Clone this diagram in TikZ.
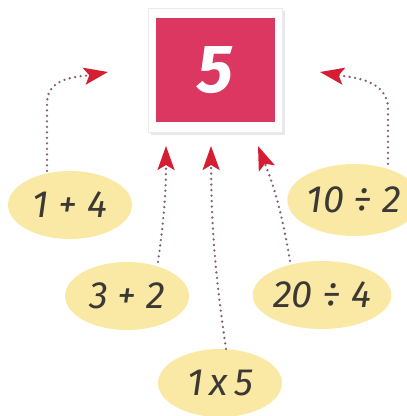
\documentclass[tikz,border=0pt]{standalone}
\usepackage{fontspec}
\setmainfont{Fira Sans}
\usepackage{xcolor}
\definecolor{boxred}{RGB}{219,55,96}
\definecolor{sumyellow}{RGB}{250,233,165}
\definecolor{inkgray}{RGB}{60,56,52}
\definecolor{dotgray}{RGB}{135,95,118}
\definecolor{tipred}{RGB}{214,30,50}
\usetikzlibrary{arrows.meta,positioning,shapes.geometric,shadows}

\begin{document}
\begin{tikzpicture}[x=1pt,y=-1pt,
    every node/.style={font=\itshape\fontsize{38}{40}\selectfont,text=inkgray},
    sum/.style={ellipse,fill=sumyellow,minimum width=124pt,minimum height=68pt,inner sep=0pt},
    link/.style={dotgray,line width=2.6pt,line cap=round,dash pattern=on 0pt off 5.5pt,
                 -{Stealth[length=24pt,width=17pt,inset=5pt,color=tipred,fill=tipred]}}]
  \useasboundingbox (0,0) rectangle (407,416);

  %% Result box
  \node[fill=white,draw=black!8,minimum width=134pt,minimum height=124pt,
        drop shadow={shadow xshift=2.5pt,shadow yshift=-2.5pt,fill=black!18}] (frame) at (215,70) {};
  \node[fill=boxred,minimum width=119pt,minimum height=104pt,text=white,
        font=\bfseries\itshape\fontsize{68}{70}\selectfont] (five) at (frame) {5};

  %% Sums
  \node[sum] (s14) at (70,205) {1 + 4};
  \node[sum] (s32) at (127,296) {3 + 2};
  \node[sum] (s15) at (220,383) {1\,x\,5};
  \node[sum] (s204) at (322,295) {20 ÷ 4};
  \node[sum,minimum width=122pt,minimum height=72pt] (s102) at (354,200) {10 ÷ 2};

  %% Arrow ends
  \coordinate (t14) at (108,72);
  \coordinate (t32) at (166,146);
  \coordinate (t15) at (211,146);
  \coordinate (t204) at (258,146);
  \coordinate (t102) at (320,72);

  %% Dotted arrows
  \draw[link] ([xshift=-23pt]s14.north) -- ++(0,-68) to[out=90,in=190] (t14);
  \draw[link] ([xshift=31pt]s32.north) to[bend right=4] (t32);
  \draw[link] ([xshift=6pt]s15.north) to[bend left=4] (t15);
  \draw[link] ([xshift=-32pt]s204.north) to[bend right=6] (t204);
  \draw[link] ([xshift=34pt]s102.north) -- ++(0,-55) to[out=90,in=-10] (t102);
\end{tikzpicture}
\end{document}
